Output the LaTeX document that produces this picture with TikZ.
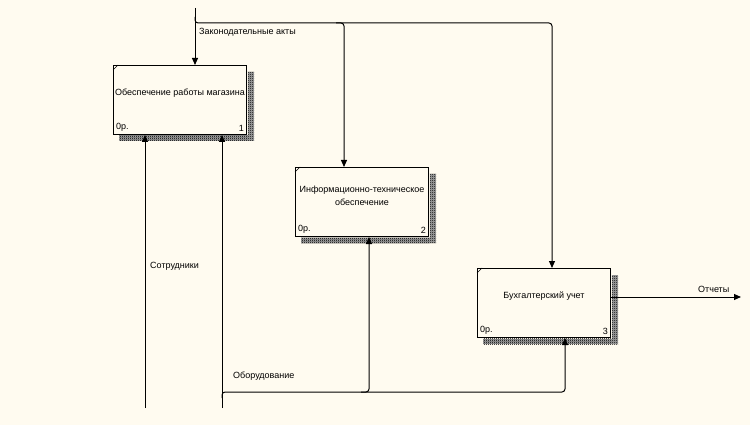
\documentclass[tikz,border=0pt]{standalone}
\usepackage{fontspec}
\setmainfont{Liberation Sans}
\usetikzlibrary{arrows.meta,patterns,calc}
\definecolor{bg}{RGB}{255,251,240}
\pgfdeclarepatternformonly{dither}{\pgfpointorigin}{\pgfpoint{2pt}{2pt}}{\pgfpoint{2pt}{2pt}}{%
  \pgfpathrectangle{\pgfpointorigin}{\pgfpoint{1pt}{1pt}}%
  \pgfpathrectangle{\pgfpoint{1pt}{1pt}}{\pgfpoint{1pt}{1pt}}%
  \pgfusepath{fill}}
\tikzset{
  box/.style={draw, fill=bg, line width=1pt, minimum width=133pt, minimum height=69pt, inner sep=0pt, anchor=north west},
  txt/.style={inner sep=0pt, font=\fontsize{9}{13}\selectfont, align=center},
  lbl/.style={inner sep=0pt, font=\fontsize{9}{11}\selectfont, anchor=west},
  arr/.style={line width=1pt, -{Triangle[length=7pt,width=6pt]}},
  ln/.style={line width=1pt},
  shadowbase/.style={fill=black!35},
  shadowfill/.style={pattern=dither, pattern color=black}
}
\newcommand{\idefbox}[5]{%
  \node[box] (#1) at (#2) {};
  \fill[shadowbase] ($(#1.north east)+(0.5,7)$) rectangle ($(#1.south east)+(7,6)$);
  \fill[shadowbase] ($(#1.south west)+(6,0.5)$) rectangle ($(#1.south east)+(0.5,6)$);
  \fill[shadowfill] ($(#1.north east)+(0.5,7)$) rectangle ($(#1.south east)+(7,6)$);
  \fill[shadowfill] ($(#1.south west)+(6,0.5)$) rectangle ($(#1.south east)+(0.5,6)$);
  \draw[line width=0.6pt] ($(#1.north west)+(0,5)$) -- ($(#1.north west)+(5,0)$);
  \node[txt] (#1t) at ($(#1.center)+(0,-6.5)$) {#3};
  \node[txt, anchor=south west] (#1c) at ($(#1.south west)+(3,-3)$) {#4};
  \node[txt, anchor=south east] (#1n) at ($(#1.south east)+(-3,-3)$) {#5};
}
\begin{document}
\begin{tikzpicture}[x=1pt,y=-1pt]
\fill[bg] (0,0) rectangle (750,425);
\useasboundingbox (0,0) rectangle (750,425);

\idefbox{b1}{113,65}{Обеспечение работы магазина}{0р.}{1}
\idefbox{b2}{295,167}{Информационно-техническое\\обеспечение}{0р.}{2}
\idefbox{b3}{477,268}{Бухгалтерский учет}{0р.}{3}

% Control: Законодательные акты
\coordinate (law) at (195,8);
\coordinate (lawj) at (195,23);
\coordinate (lawb) at (344,23);
\coordinate (lawc) at (552,23);
\draw[arr] (law) -- (law |- b1.north);
\draw[arr, rounded corners=3pt] ($(lawj)+(0,-6)$) -- (lawj) -- (lawc) -- (lawc |- b3.north);
\draw[arr, rounded corners=3pt] ($(lawb)+(-8,0)$) -- (lawb) -- (lawb |- b2.north);
\node[lbl] (lawl) at (199,32) {Законодательные акты};

% Mechanism: Сотрудники
\coordinate (staff) at (145,408);
\draw[arr] (staff) -- (staff |- b1.south);
\node[lbl] (staffl) at (150,266) {Сотрудники};

% Mechanism: Оборудование
\coordinate (eq) at (222,408);
\coordinate (eqj) at (222,392);
\coordinate (eqb) at (369,392);
\coordinate (eqc) at (565,392);
\draw[arr] (eq) -- (eq |- b1.south);
\draw[arr, rounded corners=3pt] ($(eqj)+(0,6)$) -- (eqj) -- (eqc) -- (eqc |- b3.south);
\draw[arr, rounded corners=3pt] ($(eqb)+(-8,0)$) -- (eqb) -- (eqb |- b2.south);
\node[lbl] (eql) at (233,376) {Оборудование};

% Output: Отчеты
\coordinate (rep) at (741,297);
\draw[arr] (b3.east |- rep) -- (rep);
\node[lbl] (repl) at (698,289) {Отчеты};
\end{tikzpicture}
\end{document}
